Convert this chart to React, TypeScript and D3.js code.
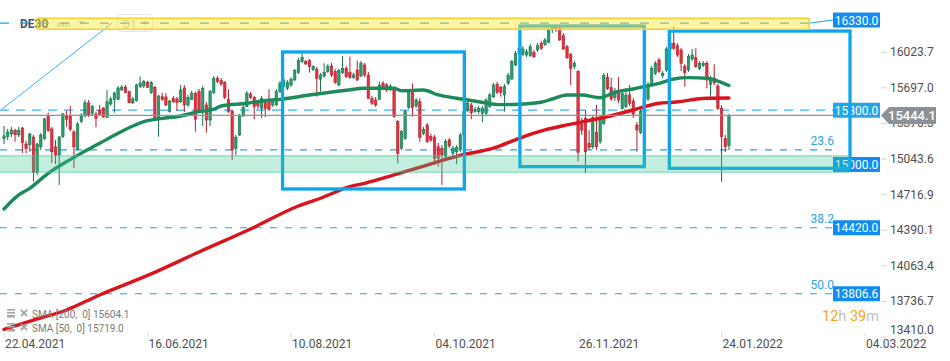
import React from 'react';
import * as d3 from 'd3';

const W = 950;
const H = 361;
const PLOT_R = 880;

// OHLC per daily bar (open, high, low, close), 22.04.2021 .. 26.01.2022
const candles: [number, number, number, number][] = [
  [15231,15347,15182,15256],[15249,15320,15219,15292],[15274,15338,15246,15311],[15304,15323,15203,15267],
  [15265,15338,15246,15304],[15329,15338,15099,15194],[15182,15212,15097,15139],[15176,15283,15111,15274],
  [15246,15265,14836,14919],[14919,15191,14898,15182],[15157,15283,15127,15265],[15231,15421,15219,15412],
  [15433,15469,15292,15304],[15320,15338,15008,15111],[15155,15219,14998,15081],[15081,15256,14806,15246],
  [15249,15469,15237,15457],[15433,15488,15341,15409],[15433,15531,15301,15317],[15292,15311,14962,15155],
  [15133,15384,15127,15366],[15387,15467,15375,15439],[15439,15586,15430,15561],[15559,15586,15430,15448],
  [15464,15540,15448,15525],[15457,15479,15335,15418],[15488,15540,15448,15457],[15513,15520,15421,15430],
  [15427,15678,15421,15570],[15549,15616,15531,15595],[15592,15662,15469,15650],[15592,15715,15586,15696],
  [15678,15724,15669,15705],[15705,15724,15648,15653],[15662,15671,15556,15561],[15561,15614,15549,15595],
  [15580,15736,15570,15724],[15708,15800,15696,15742],[15715,15770,15696,15754],[15745,15760,15696,15703],
  [15653,15760,15641,15745],[15703,15715,15402,15409],[15409,15632,15249,15623],[15616,15653,15577,15592],
  [15614,15648,15531,15540],[15479,15586,15469,15577],[15602,15623,15559,15570],[15595,15614,15485,15561],
  [15570,15724,15559,15678],[15696,15724,15476,15540],
  [15540,15632,15522,15611],[15592,15669,15586,15648],[15648,15660,15295,15409],[15662,15687,15476,15494],
  [15488,15715,15347,15693],[15540,15568,15286,15402],[15402,15678,15347,15662],[15653,15806,15641,15785],
  [15785,15806,15742,15754],[15763,15788,15715,15733],[15745,15760,15595,15611],[15592,15684,15467,15479],
  [15479,15494,15035,15127],[15143,15265,15081,15244],[15265,15457,15256,15439],[15439,15540,15430,15519],
  [15525,15669,15519,15648],[15641,15659,15595,15611],[15611,15623,15409,15525],[15556,15577,15503,15531],
  [15510,15623,15421,15602],[15561,15586,15427,15510],[15586,15684,15485,15501],[15540,15595,15522,15570],
  [15540,15687,15531,15662],[15662,15760,15650,15739],[15708,15790,15700,15770],[15693,15770,15678,15745],
  [15724,15797,15705,15776],[15770,15871,15760,15855],[15837,15972,15825,15947],[15938,16015,15926,15978],
  [15938,15953,15907,15917],[15947,15962,15837,15892],[15868,15907,15852,15892],[15868,15889,15616,15785],
  [15776,15834,15662,15816],[15806,15923,15788,15840],[15846,15917,15834,15892],[15898,15926,15797,15816],
  [15846,15871,15733,15745],[15724,15871,15715,15855],[15837,15990,15825,15877],[15877,15898,15788,15800],
  [15837,15984,15779,15794],[15794,15834,15779,15816],[15861,15947,15760,15770],[15806,15944,15797,15923],
  [15907,15926,15797,15816],
  [15815,15843,15595,15602],[15602,15623,15540,15556],[15586,15614,15522,15540],[15592,15754,15586,15724],
  [15739,15760,15696,15708],[15724,15742,15659,15678],[15678,15733,15669,15708],[15693,15708,15421,15433],
  [15387,15402,15005,15097],[15143,15311,15127,15295],[15234,15494,15219,15479],[15519,15678,15503,15653],
  [15678,15739,15433,15519],[15531,15604,15513,15586],[15570,15602,15203,15244],[15280,15338,15265,15317],
  [15356,15375,15191,15203],[15249,15274,15200,15219],[15244,15265,14989,15051],[15157,15191,14974,15051],
  [15143,15173,14806,15081],[15066,15228,15054,15203],[15219,15237,15145,15164],[15097,15164,15072,15143],
  [15111,15173,14998,15152],[15127,15283,15109,15265],[15265,15494,15256,15479],[15488,15577,15476,15556],
  [15540,15559,15409,15469],[15479,15522,15467,15501],[15479,15531,15457,15510],
  [15464,15531,15381,15510],[15464,15604,15448,15586],[15525,15650,15513,15632],[15616,15742,15604,15724],
  [15730,15751,15641,15657],[15699,15715,15616,15657],[15632,15733,15479,15708],[15739,15834,15724,15809],
  [15779,15953,15770,15938],[15907,16036,15898,16015],[16015,16082,15999,16061],[16006,16082,15990,16054],
  [15999,16054,15981,16029],[15993,16100,15981,16075],[16024,16045,15972,15983],[16045,16109,16027,16084],
  [16107,16128,16045,16061],[16097,16155,16082,16137],[16116,16247,16109,16229],[16229,16275,16201,16250],
  [16250,16275,16210,16245],[16244,16275,16128,16137],[16176,16201,16045,16054],[16075,16091,15962,15974],
  [16006,16017,15724,15877],[15892,15944,15871,15923],[15846,15861,15020,15106],[15363,15421,15265,15310],
  [15418,15494,14913,15111],[15189,15310,15127,15148],[15157,15448,15136,15423],[15289,15540,15127,15157],
  [15203,15448,15182,15412],[15372,15834,15356,15809],[15791,15834,15678,15693],[15699,15788,15577,15595],
  [15607,15696,15577,15662],[15669,15797,15559,15586],[15510,15678,15494,15648],[15525,15696,15513,15632],
  [15632,15724,15531,15556],[15577,15604,15421,15455],[15356,15384,15111,15310],[15289,15513,15274,15479],
  [15479,15632,15467,15604],[15595,15751,15577,15724],[15724,15898,15705,15877],[15831,15944,15815,15923],
  [15953,15972,15834,15846],[15809,15852,15788,15831],[15861,16073,15843,16054],[16054,16137,16036,16109],
  [16107,16259,16045,16061],[16084,16109,15981,15999],[16045,16063,15852,15923],[15892,15917,15708,15840],
  [15861,16008,15843,15984],[15962,16054,15944,15999],[15974,16061,15880,15892],[15877,15944,15861,15923],
  [15901,15944,15889,15923],[15923,15944,15693,15770],[15730,15806,15607,15785],[15788,15914,15724,15742],
  [15715,15733,15494,15510],[15510,15540,14836,15249],[15234,15265,15109,15157],[15167,15457,15127,15444],
];

// SMA 50 (green) read at bar indices
const sma50Idx = [0,4,7,12,17,21,26,31,35,39,42,48,53,57,59,66,70,75,84,93,98,106,108,114,118,123,129,135,140,146,149,153,157,162,166,171,175,178,182,186,191,194,197];
const sma50Val = [14585,14714,14775,14913,15020,15097,15188,15280,15347,15396,15412,15439,15479,15501,15531,15556,15577,15592,15636,15675,15693,15693,15671,15678,15632,15602,15570,15543,15547,15565,15595,15632,15632,15607,15657,15687,15717,15739,15779,15791,15785,15760,15719];

// SMA 200 (red)
const sma200Idx = [0,8,17,26,40,53,67,80,86,94,98,106,115,124,133,140,147,153,162,171,178,182,191,197];
const sma200Val = [13481,13566,13658,13796,13989,14191,14402,14613,14684,14790,14821,14898,14989,15077,15143,15234,15311,15357,15418,15494,15556,15565,15602,15604];

const yTicks = [16023.7, 15697.0, 15370.3, 15043.6, 14716.9, 14390.1, 14063.4, 13736.7, 13410.0];
const xTickIdx = [0, 39, 78, 117, 156, 195, 234];
const xTickLabels = ['22.04.2021', '16.06.2021', '10.08.2021', '04.10.2021', '26.11.2021', '24.01.2022', '04.03.2022'];

const priceBoxText = ['16330.0', '15300.0', '15000.0', '14420.0', '13806.6'];
const priceBoxVal = [16320, 15492, 14994, 14413, 13807];
const priceBoxColor = ['#118cf2', '#26a4e6', '#118cf2', '#118cf2', '#118cf2'];

const fibText = ['23.6', '38.2', '50.0'];
const fibVal = [15127, 14413, 13807];

const topLineVal = 16292;
const midLineVal = 15492;
const lastPrice = 15444.1;

// analysis rectangles [startIdx, endIdx, top, bottom]
const rects: [number, number, number, number][] = [
  [75.7, 125.1, 16027, 14769],
  [140.2, 174.0, 16265, 14974],
  [180.8, 229.9, 16219, 14959],
];
const yellowZone: [number, number, number, number] = [9, 218.8, 16336, 16235];
const greenZone: [number, number, number, number] = [-1.1, 229.9, 15075, 14922];
const diagonal: [number, number, number, number] = [-0.6, 15501, 29.3, 16290];

const legendLines = ['SMA [200,\u00A0\u00A00] 15604.1', 'SMA [50,\u00A0\u00A00] 15719.0'];

export default function App() {
  const x = d3.scaleLinear().domain([0, 234]).range([4, 865.1]);
  const y = d3.scaleLinear().domain([13410, 16023.7]).range([337.0, 52.3]);
  const bw = 2.4;

  const line = d3.line<[number, number]>().x((d) => x(d[0])).y((d) => y(d[1])).curve(d3.curveMonotoneX);
  const sma50 = line(sma50Idx.map((i, k) => [i, sma50Val[k]]));
  const sma200 = line(sma200Idx.map((i, k) => [i, sma200Val[k]]));

  const font = 'Roboto, "Noto Sans", sans-serif';
  const xEnd = x(-1.09);
  const yl = y(lastPrice);

  return (
    <svg width={W} height={H} style={{ position: 'absolute', left: 0, top: 0, background: '#fff' }} fontFamily={font}>
      {/* header */}
      <rect x={117.5} y={14.5} width={35} height={17} rx={3} fill="none" stroke="#e3e3e3" />
      <text x={20} y={27.5} fontSize={12} fontWeight={700} fill="#4a525b">DE30</text>
      <text x={57} y={26.5} fontSize={8} fontWeight={700} fill="#c6c6c6">IND</text>
      <path d="M78,21 L85,21 L81.5,25 Z" fill="#c6c6c6" />
      <text x={123} y={27.5} fontSize={11} fill="#c4c4c4">D1</text>
      <path d="M142,21 L148,21 L145,25 Z" fill="#c6c6c6" />

      {/* dashed levels */}
      <line x1={xEnd} x2={810} y1={y(topLineVal)} y2={y(topLineVal)} stroke="#1ea3ee" strokeWidth={1.2} strokeDasharray="9 11" />
      <line x1={810} x2={833} y1={y(topLineVal)} y2={y(priceBoxVal[0])} stroke="#1ea3ee" strokeWidth={1} />
      <line x1={xEnd} x2={833} y1={y(midLineVal)} y2={y(midLineVal)} stroke="#3aaef0" strokeWidth={1.2} strokeDasharray="9 7" />
      {fibVal.map((v, k) => (
        <line key={'f' + k} x1={xEnd} x2={833} y1={y(v)} y2={y(v)} stroke="#1ea3ee" strokeWidth={1.2} strokeDasharray="7 8" />
      ))}
      <line x1={x(diagonal[0])} y1={y(diagonal[1])} x2={x(diagonal[2])} y2={y(diagonal[3])} stroke="#35b2f0" strokeWidth={1} />

      {/* candles */}
      {candles.map(([o, h, l, c], i) => {
        const up = c >= o;
        const cx = x(i);
        const top = y(Math.max(o, c));
        const bot = y(Math.min(o, c));
        const fill = up ? '#27a06b' : '#e3323f';
        const stroke = up ? '#15704a' : '#b01f2c';
        return (
          <g key={i}>
            <line x1={cx} x2={cx} y1={y(h)} y2={y(l)} stroke={stroke} strokeWidth={1} />
            <rect x={cx - bw / 2} y={top} width={bw} height={Math.max(1, bot - top)} fill={fill} stroke={stroke} strokeWidth={0.6} />
          </g>
        );
      })}

      {/* SMAs */}
      <path d={sma50 || ''} fill="none" stroke="#1d8a5b" strokeWidth={3.4} strokeLinecap="round" />
      <path d={sma200 || ''} fill="none" stroke="#d8141c" strokeWidth={3.4} strokeLinecap="round" />

      {/* current price line */}
      <line x1={0} x2={PLOT_R} y1={yl} y2={yl} stroke="#8d9297" strokeWidth={1.2} />

      {/* price boxes */}
      {priceBoxText.map((t, k) => (
        <g key={'pb' + k}>
          <rect x={833} y={y(priceBoxVal[k]) - 7.5} width={47} height={15} fill={priceBoxColor[k]} />
          <text x={856.5} y={y(priceBoxVal[k]) + 0.5} fontSize={12} fill="#fff" textAnchor="middle" dominantBaseline="central">{t}</text>
        </g>
      ))}

      {/* rectangles */}
      {rects.map(([i0, i1, t, b], k) => (
        <rect key={'r' + k} x={x(i0)} y={y(t)} width={x(i1) - x(i0)} height={y(b) - y(t)} fill="none" stroke="#0aa6ef" strokeWidth={3.3} />
      ))}

      {/* zones */}
      <rect x={x(yellowZone[0])} y={y(yellowZone[2])} width={x(yellowZone[1]) - x(yellowZone[0])} height={y(yellowZone[3]) - y(yellowZone[2])}
        fill="rgba(255,228,55,0.45)" />
      <line x1={x(yellowZone[0])} x2={x(yellowZone[1])} y1={y(yellowZone[2])} y2={y(yellowZone[2])} stroke="#f6d02e" strokeWidth={1.5} />
      <line x1={x(yellowZone[0])} x2={x(yellowZone[1])} y1={y(yellowZone[3])} y2={y(yellowZone[3])} stroke="#f6d02e" strokeWidth={1.5} />
      <line x1={x(yellowZone[0])} x2={x(yellowZone[0])} y1={y(yellowZone[2])} y2={y(yellowZone[3])} stroke="#f6d02e" strokeWidth={1.5} />
      <line x1={x(yellowZone[1])} x2={x(yellowZone[1])} y1={y(yellowZone[2])} y2={y(yellowZone[3])} stroke="#f6d02e" strokeWidth={1.5} />

      <rect x={x(greenZone[0])} y={y(greenZone[2])} width={x(greenZone[1]) - x(greenZone[0])} height={y(greenZone[3]) - y(greenZone[2])}
        fill="rgba(60,200,150,0.31)" />
      <line x1={x(greenZone[0])} x2={x(greenZone[1])} y1={y(greenZone[2])} y2={y(greenZone[2])} stroke="rgba(60,200,150,0.45)" strokeWidth={1.5} />
      <line x1={x(greenZone[0])} x2={x(greenZone[1])} y1={y(greenZone[3])} y2={y(greenZone[3])} stroke="rgba(60,200,150,0.45)" strokeWidth={1.5} />

      {/* fib labels */}
      {fibText.map((t, k) => (
        <text key={'ft' + k} x={834} y={y(fibVal[k]) - 9} fontSize={12} fill="#2aa4e6" textAnchor="end" dominantBaseline="central">{t}</text>
      ))}

      {/* right axis (15370.3 sits behind the last-price tag, as in the original) */}
      {yTicks.map((v) => (
        <g key={'yt' + v}>
          <line x1={881} x2={887} y1={y(v)} y2={y(v)} stroke="#d6d6d6" />
          <text x={890} y={Math.min(y(v), 330)} fontSize={12} fill="#4f4f4f" dominantBaseline="central">{v.toFixed(1)}</text>
        </g>
      ))}

      {/* last price tag */}
      <path d={`M881,${yl} L889,${yl - 8.5} L936,${yl - 8.5} L936,${yl + 8.5} L889,${yl + 8.5} Z`} fill="#8b9196" />
      <text x={912} y={yl + 0.5} fontSize={13} fontWeight={500} fill="#fff" textAnchor="middle" dominantBaseline="central">{lastPrice.toFixed(1)}</text>

      {/* x axis */}
      {xTickIdx.map((i, k) => (
        <g key={'xt' + i}>
          <line x1={x(i)} x2={x(i)} y1={333} y2={337} stroke="#dadada" />
          <text x={x(i) + 1} y={343.5} fontSize={12} fill="#4f4f4f" dominantBaseline="central">{xTickLabels[k]}</text>
        </g>
      ))}

      {/* legend */}
      {legendLines.map((t, k) => (
        <g key={'lg' + k} transform={`translate(0,${314 + k * 14})`}>
          <rect x={7} y={-5} width={8} height={1.6} fill="#a6a6a6" />
          <rect x={7} y={-2} width={8} height={1.6} fill="#a6a6a6" />
          <rect x={7} y={1} width={8} height={2.5} fill="#a6a6a6" />
          <path d="M21,-4 L27,2 M27,-4 L21,2" stroke="#a6a6a6" strokeWidth={1.8} />
          <text x={32} y={0.5} fontSize={10} fill="#7a7a7a" dominantBaseline="central">{t}</text>
        </g>
      ))}

      {/* countdown */}
      <text x={822} y={316} fontSize={14.5} dominantBaseline="central">
        <tspan fill="#f7a21b">12</tspan>
        <tspan fill="#c2c2c2">h </tspan>
        <tspan fill="#f7a21b">39</tspan>
        <tspan fill="#c2c2c2">m</tspan>
      </text>
    </svg>
  );
}
